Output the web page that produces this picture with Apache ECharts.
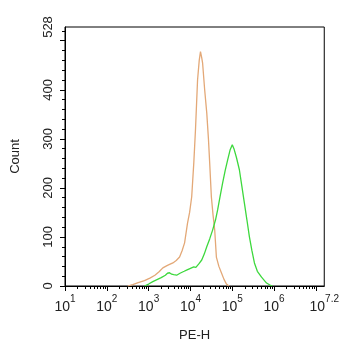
<!DOCTYPE html>
<html><head><meta charset="utf-8">
<script src="https://cdn.jsdelivr.net/npm/echarts@6/dist/echarts.min.js"></script>
<style>html,body{margin:0;padding:0;background:#fff}#c{width:342px;height:350px}</style>
</head><body><div id="c"></div>
<script>
// x values are log10(PE-H)
var orangeX = [2.5,2.62,2.75,2.9,3.03,3.15,3.25,3.34,3.45,3.58,3.66,3.74,3.8,3.86,3.93,3.98,4.03,4.08,4.12,4.17,4.21,4.24,4.27,4.29,4.34,4.39,4.43,4.46,4.5,4.54,4.58,4.62,4.68,4.74,4.8,4.86,4.92];
var orangeY = [0,3,7,11,16,22,29,37,42,47,52,59,72,88,128,150,182,251,318,420,460,478,465,455,400,353,300,251,182,145,114,59,40,27,14,4,0];
var greenX = [2.9,3.0,3.1,3.2,3.3,3.4,3.45,3.5,3.55,3.6,3.67,3.75,3.85,3.92,4.0,4.08,4.13,4.2,4.27,4.33,4.39,4.46,4.53,4.6,4.65,4.71,4.77,4.83,4.89,4.95,5.0,5.04,5.1,5.17,5.23,5.29,5.35,5.41,5.47,5.53,5.6,5.7,5.82,5.9,5.96];
var greenY = [0,4,9,13,17,22,26,27,24,23,22,26,30,33,36,39,38,45,53,65,80,96,114,135,155,183,210,235,257,278,288,280,262,237,203,169,135,100,72,47,30,18,6,2,0];
var xLabelExps = [1,2,3,4,5,6,7.2];
var xMajorTicks = [1,2,3,4,5,6,7];
var yLabels = [0,100,200,300,400,528];
var yMajorTicks = [0,100,200,300,400,500];

function zip(a,b){return a.map(function(v,i){return [v,b[i]];});}
var xMinor = [];
for (var d=1; d<=7; d++) for (var k=2; k<=9; k++){ var v=d+Math.log10(k); if (v<=7.2) xMinor.push(v); }
var yMinor = [];
for (var v=20; v<=520; v+=20) if (v%100!==0) yMinor.push(v);

var chart = echarts.init(document.getElementById('c'), null, {renderer:'canvas'});
var font = 'Liberation Sans, Arial, sans-serif';
chart.setOption({
  animation:false,
  backgroundColor:'#fff',
  grid:{left:65,right:17,top:27,bottom:64,show:true,borderColor:'#000',borderWidth:1,backgroundColor:'transparent'},
  xAxis:[{
    type:'value',min:1,max:7.2,position:'bottom',
    name:'PE-H',nameLocation:'middle',nameGap:43,
    nameTextStyle:{fontFamily:font,fontSize:13,color:'#222'},
    axisLine:{show:true,lineStyle:{color:'#000',width:1}},
    axisTick:{show:true,length:5,customValues:xMajorTicks,lineStyle:{color:'#000'}},
    axisLabel:{customValues:xLabelExps,margin:8,fontFamily:font,color:'#222',
      formatter:function(v){return '{b|10}{s|'+(Math.round(v*10)/10)+'}';},
      rich:{b:{fontSize:14,fontFamily:font,color:'#222',lineHeight:20,verticalAlign:'bottom'},
            s:{fontSize:10,fontFamily:font,color:'#222',lineHeight:20,verticalAlign:'top'}}},
    splitLine:{show:false}
  },{
    type:'value',min:1,max:7.2,position:'bottom',
    axisLine:{show:false},
    axisTick:{show:true,length:3,customValues:xMinor,lineStyle:{color:'#000'}},
    axisLabel:{show:false},splitLine:{show:false}
  }],
  yAxis:[{
    type:'value',min:0,max:528,
    name:'Count',nameLocation:'middle',nameGap:43,
    nameTextStyle:{fontFamily:font,fontSize:13,color:'#222'},
    axisLine:{show:true,lineStyle:{color:'#000',width:1}},
    axisTick:{show:true,length:5,customValues:yMajorTicks,lineStyle:{color:'#000'}},
    axisLabel:{customValues:yLabels,rotate:90,margin:10,fontFamily:font,fontSize:13,color:'#222'},
    splitLine:{show:false}
  },{
    type:'value',min:0,max:528,position:'left',
    axisLine:{show:false},
    axisTick:{show:true,length:3,customValues:yMinor,lineStyle:{color:'#000'}},
    axisLabel:{show:false},splitLine:{show:false}
  }],
  series:[
    {type:'line',data:zip(orangeX,orangeY),showSymbol:false,lineStyle:{color:'#E3A877',width:1.3},z:3},
    {type:'line',data:zip(greenX,greenY),showSymbol:false,lineStyle:{color:'#3DD83D',width:1.3},z:4}
  ]
});
</script></body></html>
